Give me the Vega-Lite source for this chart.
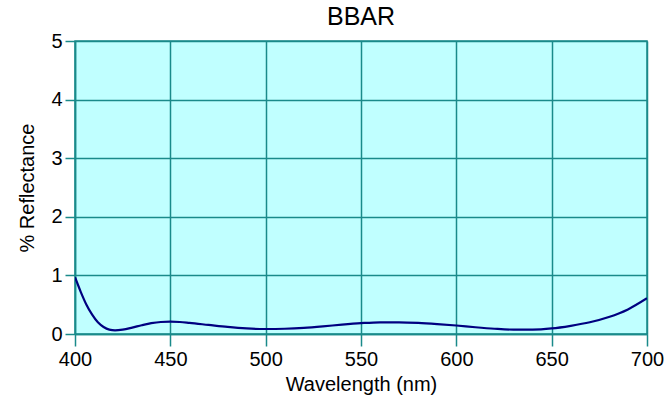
{
  "$schema": "https://vega.github.io/schema/vega-lite/v6.json",
  "autosize": {"type": "none"},
  "width": 572,
  "height": 293,
  "padding": {"left": 75, "top": 41, "right": 20, "bottom": 70},
  "background": "white",
  "title": {"text": "BBAR", "font": "Liberation Sans", "fontSize": 25, "fontWeight": "normal", "color": "black", "offset": 1},
  "config": {
    "view": {"fill": "#c0ffff", "stroke": "#1a8a8a", "strokeWidth": 1.5},
    "axis": {
      "labelFont": "Liberation Sans", "titleFont": "Liberation Sans",
      "labelFontSize": 20, "titleFontSize": 20, "titleFontWeight": "normal",
      "labelColor": "black", "titleColor": "black",
      "gridColor": "#1a8a8a", "gridOpacity": 1, "gridWidth": 1.5,
      "tickColor": "#1a8a8a", "tickWidth": 1.5,
      "domainColor": "#1a8a8a", "domainWidth": 1.5
    }
  },
  "data": {"values": [
    {"wl": 400, "r": 0.97}, {"wl": 403, "r": 0.72}, {"wl": 406, "r": 0.5}, {"wl": 409, "r": 0.33},
    {"wl": 412, "r": 0.2}, {"wl": 415, "r": 0.12}, {"wl": 418, "r": 0.075}, {"wl": 421, "r": 0.062},
    {"wl": 425, "r": 0.075}, {"wl": 430, "r": 0.11}, {"wl": 435, "r": 0.15}, {"wl": 440, "r": 0.185},
    {"wl": 445, "r": 0.205}, {"wl": 450, "r": 0.21}, {"wl": 455, "r": 0.205}, {"wl": 460, "r": 0.19},
    {"wl": 470, "r": 0.155}, {"wl": 480, "r": 0.12}, {"wl": 490, "r": 0.095}, {"wl": 500, "r": 0.085},
    {"wl": 510, "r": 0.09}, {"wl": 520, "r": 0.105}, {"wl": 530, "r": 0.13}, {"wl": 540, "r": 0.16},
    {"wl": 550, "r": 0.185}, {"wl": 560, "r": 0.2}, {"wl": 570, "r": 0.2}, {"wl": 580, "r": 0.19},
    {"wl": 590, "r": 0.17}, {"wl": 600, "r": 0.145}, {"wl": 610, "r": 0.115}, {"wl": 620, "r": 0.09},
    {"wl": 630, "r": 0.075}, {"wl": 640, "r": 0.075}, {"wl": 650, "r": 0.095}, {"wl": 660, "r": 0.14},
    {"wl": 670, "r": 0.2}, {"wl": 680, "r": 0.29}, {"wl": 690, "r": 0.42}, {"wl": 700, "r": 0.61}
  ]},
  "mark": {"type": "line", "color": "#000080", "strokeWidth": 2.2, "interpolate": "monotone", "clip": true},
  "encoding": {
    "x": {"field": "wl", "type": "quantitative", "title": "Wavelength (nm)",
      "scale": {"domain": [400, 700], "nice": false, "zero": false},
      "axis": {"values": [400, 450, 500, 550, 600, 650, 700], "tickSize": 12, "labelPadding": 3, "titlePadding": 5, "labelFlush": false}},
    "y": {"field": "r", "type": "quantitative", "title": "% Reflectance",
      "scale": {"domain": [0, 5], "nice": false},
      "axis": {"values": [0, 1, 2, 3, 4, 5], "tickSize": 10, "labelPadding": 3, "titlePadding": 13, "labelFlush": false}}
  }
}
